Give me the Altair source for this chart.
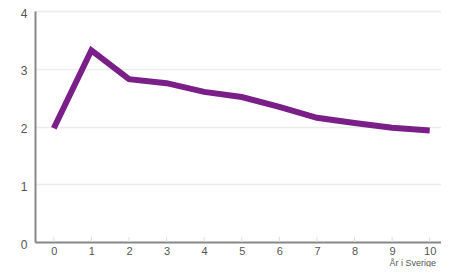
import altair as alt
import pandas as pd

years = [0, 1, 2, 3, 4, 5, 6, 7, 8, 9, 10]
values = [1.97, 3.32, 2.82, 2.75, 2.6, 2.51, 2.34, 2.15, 2.06, 1.98, 1.93]

df = pd.DataFrame({"year": years, "value": values})
ticks = pd.DataFrame({"year": years, "y0": [0] * len(years), "y1": [0.09] * len(years)})

xscale = alt.Scale(domain=[-0.5, 10.3], nice=False, zero=False)
yscale = alt.Scale(domain=[0, 4], nice=False)

line = alt.Chart(df).mark_line(color="#7a1f88", strokeWidth=6, strokeJoin="miter").encode(
    x=alt.X("year:Q", scale=xscale,
            axis=alt.Axis(values=years, title="År i Sverige", grid=False, ticks=False,
                          labelPadding=3, labelFontSize=11, labelColor="#555555",
                          titleFontSize=9, titleFontWeight="normal", titleColor="#555555",
                          titleAnchor="start", titleAlign="left", titleX=354, titleY=16,
                          titleBaseline="top",
                          domainColor="#888888", domainWidth=2, format="d")),
    y=alt.Y("value:Q", scale=yscale,
            axis=alt.Axis(values=[0, 1, 2, 3, 4], title=None, ticks=False, grid=True,
                          gridColor="#ececec", gridWidth=1.5, labelPadding=8,
                          labelFontSize=12, labelColor="#555555", labelOffset=2,
                          format="d",
                          domainColor="#888888", domainWidth=2)),
)

tk = alt.Chart(ticks).mark_rule(color="#dddddd", strokeWidth=1).encode(
    x=alt.X("year:Q", scale=xscale),
    y=alt.Y("y0:Q", scale=yscale),
    y2="y1:Q",
)

chart = (tk + line).properties(
    width=406, height=231,
    autosize=alt.AutoSizeParams(type="none"),
    padding={"left": 27, "top": 3, "right": 0, "bottom": 25},
).configure_view(stroke=None).configure(font="Liberation Sans")

chart.save("out.html", embed_options={"renderer": "svg", "actions": False})
